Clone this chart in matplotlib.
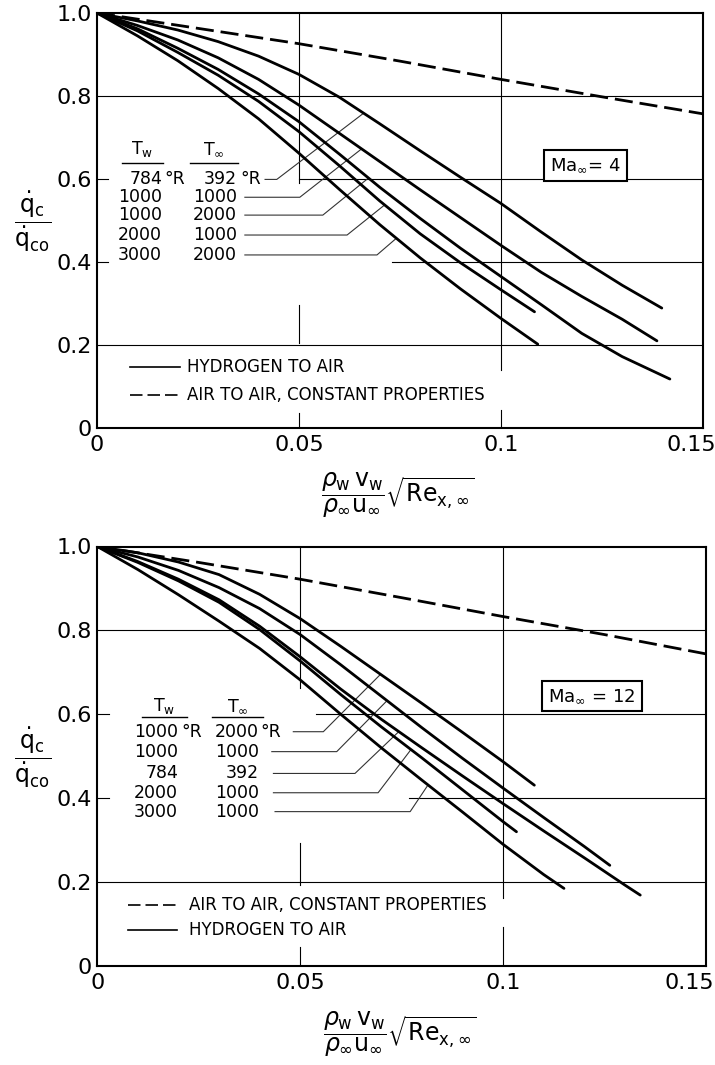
import numpy as np
import matplotlib.pyplot as plt
import matplotlib.transforms as mtransforms

# ---- Ma = 4 (upper chart) ----
air4_x = [0, 0.025, 0.05, 0.075, 0.1, 0.125, 0.15]
air4_y = [1.0, 0.963, 0.926, 0.884, 0.84, 0.798, 0.757]

h4a_x = [0, 0.01, 0.02, 0.03, 0.04, 0.05, 0.06, 0.07, 0.08, 0.09, 0.1, 0.11, 0.12, 0.13, 0.1398]
h4a_y = [1.0, 0.981, 0.959, 0.931, 0.896, 0.852, 0.797, 0.733, 0.668, 0.604, 0.541, 0.472, 0.405, 0.344, 0.289]
h4b_x = [0, 0.01, 0.02, 0.03, 0.04, 0.05, 0.06, 0.07, 0.08, 0.09, 0.1, 0.11, 0.12, 0.13, 0.1386]
h4b_y = [1.0, 0.97, 0.935, 0.892, 0.84, 0.778, 0.71, 0.642, 0.574, 0.507, 0.44, 0.375, 0.317, 0.262, 0.21]
h4c_x = [0, 0.01, 0.02, 0.03, 0.04, 0.05, 0.06, 0.07, 0.08, 0.09, 0.1, 0.11, 0.12, 0.13, 0.1418]
h4c_y = [1.0, 0.962, 0.915, 0.864, 0.805, 0.738, 0.66, 0.58, 0.505, 0.433, 0.365, 0.297, 0.228, 0.172, 0.118]
h4d_x = [0, 0.01, 0.02, 0.03, 0.04, 0.05, 0.06, 0.07, 0.08, 0.09, 0.1, 0.1083]
h4d_y = [1.0, 0.957, 0.905, 0.85, 0.787, 0.714, 0.632, 0.547, 0.468, 0.398, 0.333, 0.28]
h4e_x = [0, 0.01, 0.02, 0.03, 0.04, 0.05, 0.06, 0.07, 0.08, 0.09, 0.1, 0.1091]
h4e_y = [1.0, 0.945, 0.885, 0.818, 0.745, 0.662, 0.575, 0.49, 0.41, 0.335, 0.264, 0.202]

tw4 = ['784', '1000', '1000', '2000', '3000']
tinf4 = ['392', '1000', '2000', '1000', '2000']
tip4_x = [0.066, 0.0655, 0.0672, 0.0712, 0.0741]

# ---- Ma = 12 (lower chart) ----
air12_x = [0, 0.025, 0.05, 0.075, 0.1, 0.125, 0.15]
air12_y = [1.0, 0.962, 0.922, 0.878, 0.833, 0.79, 0.744]

h12a_x = [0, 0.01, 0.02, 0.03, 0.04, 0.05, 0.06, 0.07, 0.08, 0.09, 0.1, 0.1077]
h12a_y = [1.0, 0.985, 0.963, 0.933, 0.886, 0.828, 0.762, 0.694, 0.626, 0.557, 0.487, 0.431]
h12b_x = [0, 0.01, 0.02, 0.03, 0.04, 0.05, 0.06, 0.07, 0.08, 0.09, 0.1, 0.11, 0.12, 0.1263]
h12b_y = [1.0, 0.975, 0.943, 0.902, 0.852, 0.79, 0.718, 0.643, 0.568, 0.495, 0.424, 0.354, 0.285, 0.24]
h12c_x = [0, 0.01, 0.02, 0.03, 0.04, 0.05, 0.06, 0.07, 0.08, 0.09, 0.1, 0.11, 0.12, 0.13, 0.1338]
h12c_y = [1.0, 0.964, 0.922, 0.873, 0.81, 0.737, 0.66, 0.588, 0.52, 0.453, 0.387, 0.322, 0.258, 0.193, 0.169]
h12d_x = [0, 0.01, 0.02, 0.03, 0.04, 0.05, 0.06, 0.07, 0.08, 0.09, 0.1, 0.1033]
h12d_y = [1.0, 0.962, 0.918, 0.867, 0.802, 0.727, 0.647, 0.57, 0.496, 0.42, 0.344, 0.32]
h12e_x = [0, 0.01, 0.02, 0.03, 0.04, 0.05, 0.06, 0.07, 0.08, 0.09, 0.1, 0.11, 0.115]
h12e_y = [1.0, 0.945, 0.885, 0.822, 0.757, 0.682, 0.6, 0.52, 0.443, 0.367, 0.29, 0.218, 0.185]

tw12 = ['1000', '1000', '784', '2000', '3000']
tinf12 = ['2000', '1000', '392', '1000', '1000']
tip12_x = [0.0698, 0.0714, 0.0743, 0.0773, 0.0815]

xticks = [0, 0.05, 0.1, 0.15]
xtick_labels = ['0', '0.05', '0.1', '0.15']
yticks = [0, 0.2, 0.4, 0.6, 0.8, 1.0]
ytick_labels = ['0', '0.2', '0.4', '0.6', '0.8', '1.0']

CURVE_LW = 2.0
DASH = (0, (6.5, 2.5))

fig = plt.figure(figsize=(7.15, 10.65), dpi=100)
ax4 = fig.add_axes([97 / 715, 1 - 428 / 1065, 606 / 715, 415 / 1065])
ax12 = fig.add_axes([97.3 / 715, 1 - 966 / 1065, 608.7 / 715, 419.5 / 1065])


def frame(ax, shift):
    ax.set_xlim(0, 0.15)
    ax.set_ylim(0, 1.0)
    ax.set_xticks(xticks, xtick_labels)
    ax.set_yticks(yticks, ytick_labels)
    ax.tick_params(axis='x', length=0, labelsize=16, pad=5)
    ax.tick_params(axis='y', length=0, labelsize=16, pad=4)
    for s in ax.spines.values():
        s.set_linewidth(1.5)
    # last x label sits a bit to the left, like the original drawing
    lbl = ax.get_xticklabels()[-1]
    lbl.set_transform(lbl.get_transform() + mtransforms.ScaledTranslation(-shift, 0, fig.dpi_scale_trans))
    ax.text(-0.107, 0.497, r'$\dfrac{\dot{\mathrm{q}}_\mathrm{c}}{\dot{\mathrm{q}}_\mathrm{co}}$',
            transform=ax.transAxes, ha='center', va='center', fontsize=17)
    ax.text(0.497, -0.162,
            r'$\dfrac{\rho_\mathrm{w}\,\mathrm{v}_\mathrm{w}}{\rho_\infty \mathrm{u}_\infty}'
            r'\sqrt{\mathrm{Re}_{\mathrm{x},\infty}}$',
            transform=ax.transAxes, ha='center', va='center', fontsize=17)


def grid(ax, hl, vl):
    for y, x0, x1 in hl:
        ax.plot([x0, x1], [y, y], color='black', lw=0.8, zorder=1)
    for x, y0, y1 in vl:
        ax.plot([x, x], [y0, y1], color='black', lw=0.8, zorder=1)


def table(ax, tw, tinf, hdr, cols, rows_y, starts, knees, tips, curves):
    xw, xi, uw, ui = cols
    hy, uly, ulw, uli = hdr
    ax.text((ulw[0] + ulw[1]) / 2, hy, r'T$_{\mathrm{w}}$', ha='center', va='center', fontsize=12.5)
    ax.text((uli[0] + uli[1]) / 2, hy, r'T$_{\infty}$', ha='center', va='center', fontsize=12.5)
    ax.plot(ulw, [uly, uly], color='black', lw=1.0)
    ax.plot(uli, [uly, uly], color='black', lw=1.0)
    for i in range(len(tw)):
        y = rows_y[i]
        ax.text(xw, y, tw[i], ha='right', va='center', fontsize=12.5)
        ax.text(xi, y, tinf[i], ha='right', va='center', fontsize=12.5)
        if i == 0:
            ax.text(uw, y, '°R', ha='left', va='center', fontsize=12.5)
            ax.text(ui, y, '°R', ha='left', va='center', fontsize=12.5)
        cx, cy = curves[i]
        ty = np.interp(tips[i], cx, cy)
        ax.plot([starts[i], knees[i], tips[i]], [y, y, ty], color='#333333', lw=0.8, zorder=2)


def legend(ax, items, ys, x0, x1, xt):
    for (label, dashed), y in zip(items, ys):
        if dashed:
            ax.plot([x0, x1], [y, y], color='black', lw=1.2, linestyle=(0, (7.5, 3)))
        else:
            ax.plot([x0, x1], [y, y], color='black', lw=1.2)
        ax.text(xt, y, label, ha='left', va='center', fontsize=12)


# ---------- upper chart ----------
frame(ax4, 0.12)
grid(ax4,
     [(0.8, 0, 0.15), (0.6, 0.05, 0.15), (0.4, 0.073, 0.15), (0.2, 0, 0.15),
      (0.6, 0, 0.0028), (0.4, 0, 0.0028)],
     [(0.05, 0.59, 1.0), (0.05, 0.205, 0.296), (0.05, 0, 0.036),
      (0.1, 0.14, 1.0), (0.1, 0, 0.043)])
ax4.plot(air4_x, air4_y, color='black', lw=CURVE_LW, linestyle=DASH, zorder=3)
curves4 = [(h4a_x, h4a_y), (h4b_x, h4b_y), (h4c_x, h4c_y), (h4d_x, h4d_y), (h4e_x, h4e_y)]
for cx, cy in curves4:
    ax4.plot(cx, cy, color='black', lw=CURVE_LW, solid_capstyle='round', zorder=3)
table(ax4, tw4, tinf4,
      (0.673, 0.638, [0.00609, 0.01639], [0.02302, 0.03494]),
      (0.01609, 0.03465, 0.01658, 0.0354),
      [0.599, 0.556, 0.513, 0.465, 0.417],
      [0.0416, 0.0366, 0.0366, 0.0366, 0.0366],
      [0.0445, 0.0502, 0.0559, 0.0619, 0.0693],
      tip4_x, curves4)
legend(ax4, [('HYDROGEN TO AIR', False), ('AIR TO AIR, CONSTANT PROPERTIES', True)],
       [0.148, 0.08], 0.0081, 0.0205, 0.0222)
ax4.text(0.806, 0.633, r'Ma$_{\infty}$= 4', transform=ax4.transAxes, ha='center', va='center',
         fontsize=13, zorder=5,
         bbox=dict(boxstyle='square,pad=0.35', fc='white', ec='black', lw=1.5))

# ---------- lower chart ----------
frame(ax12, 0.17)
grid(ax12,
     [(0.8, 0, 0.15), (0.6, 0.054, 0.15), (0.4, 0.0767, 0.15), (0.2, 0, 0.15),
      (0.6, 0, 0.0028), (0.4, 0, 0.0028)],
     [(0.05, 0.663, 1.0), (0.05, 0.193, 0.293), (0.05, 0, 0.046),
      (0.1, 0.162, 1.0), (0.1, 0, 0.094)])
ax12.plot(air12_x, air12_y, color='black', lw=CURVE_LW, linestyle=DASH, zorder=3)
curves12 = [(h12a_x, h12a_y), (h12b_x, h12b_y), (h12c_x, h12c_y), (h12d_x, h12d_y), (h12e_x, h12e_y)]
for cx, cy in curves12:
    ax12.plot(cx, cy, color='black', lw=CURVE_LW, solid_capstyle='round', zorder=3)
table(ax12, tw12, tinf12,
      (0.62, 0.594, [0.01094, 0.02203], [0.02819, 0.0409]),
      (0.0199, 0.0398, 0.0206, 0.0402),
      [0.5585, 0.511, 0.459, 0.413, 0.368],
      [0.0483, 0.043, 0.0434, 0.0434, 0.0438],
      [0.0557, 0.059, 0.0635, 0.0692, 0.0771],
      tip12_x, curves12)
legend(ax12, [('AIR TO AIR, CONSTANT PROPERTIES', True), ('HYDROGEN TO AIR', False)],
       [0.145, 0.086], 0.0075, 0.0197, 0.0225)
ax12.text(0.8127, 0.6436, r'Ma$_{\infty}$ = 12', transform=ax12.transAxes, ha='center', va='center',
          fontsize=13, zorder=5,
          bbox=dict(boxstyle='square,pad=0.35', fc='white', ec='black', lw=1.5))

fig.savefig('out.png', dpi=100)
